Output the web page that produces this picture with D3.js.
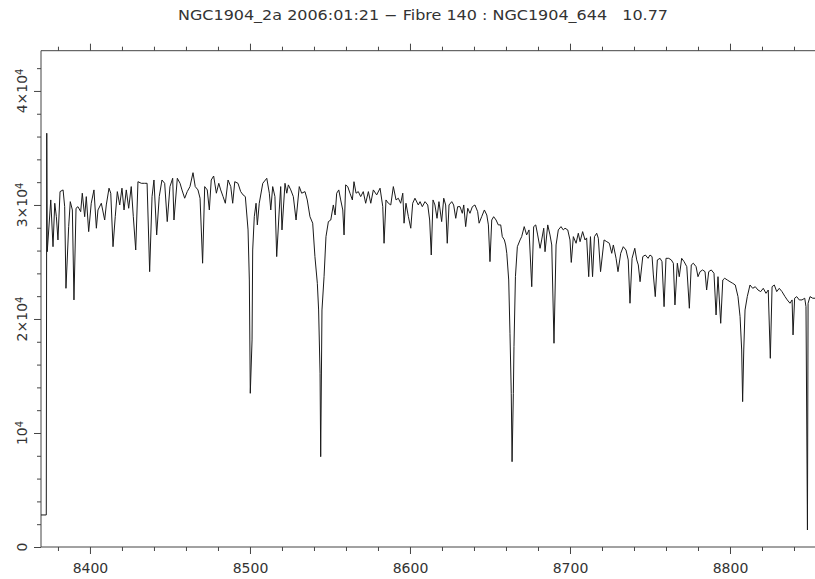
<!DOCTYPE html>
<html>
<head>
<meta charset="utf-8">
<script src="https://cdn.jsdelivr.net/npm/d3@7"></script>
<style>
  body { margin: 0; background: #fff; }
  svg { display: block; }
</style>
</head>
<body>
<svg id="chart" width="815" height="579"></svg>
<script>
// spectrum
var title = "NGC1904_2a 2006:01:21 \u2212 Fibre 140 : NGC1904_644   10.77";

var wavelength = [
  8369.4, 8372.7, 8373.0, 8373.3, 8375.5, 8376.9, 8378.0, 8379.0, 8380.0, 8381.3,
  8383.2, 8384.2, 8385.0, 8386.7, 8387.7, 8389.0, 8390.0, 8391.3, 8392.5, 8394.2,
  8395.2, 8396.7, 8397.7, 8399.2, 8400.8, 8402.5, 8404.0, 8405.0, 8407.1, 8409.2,
  8410.2, 8411.9, 8413.0, 8414.4, 8415.8, 8417.1, 8418.6, 8420.0, 8421.3, 8422.7,
  8424.2, 8425.8, 8427.1, 8428.6, 8430.0, 8432.1, 8434.2, 8435.7, 8437.3, 8438.8,
  8440.0, 8441.7, 8443.3, 8445.0, 8446.7, 8448.3, 8450.0, 8451.7, 8452.5, 8454.6,
  8456.3, 8457.5, 8459.2, 8460.8, 8462.5, 8464.4, 8465.8, 8467.5, 8468.8, 8470.4,
  8471.7, 8473.3, 8474.6, 8475.8, 8477.3, 8479.0, 8480.5, 8481.7, 8483.2, 8484.6,
  8486.3, 8488.0, 8489.2, 8490.5, 8492.5, 8494.2, 8495.7, 8497.1, 8498.8, 8499.6,
  8500.2, 8501.3, 8501.7, 8502.7, 8503.8, 8504.6, 8505.8, 8508.0, 8510.5, 8512.1,
  8513.0, 8514.2, 8515.6, 8516.7, 8518.3, 8519.2, 8520.0, 8521.9, 8523.0, 8524.0,
  8525.5, 8527.1, 8528.8, 8530.8, 8532.3, 8534.4, 8535.8, 8537.5, 8539.2, 8540.6,
  8542.1, 8542.9, 8543.8, 8544.2, 8545.0, 8546.3, 8547.5, 8549.0, 8550.5, 8552.1,
  8553.2, 8554.2, 8555.5, 8556.7, 8558.0, 8558.8, 8559.8, 8561.1, 8562.5, 8564.0,
  8565.0, 8566.3, 8567.7, 8569.2, 8570.8, 8572.3, 8574.0, 8575.5, 8577.1, 8579.2,
  8581.3, 8583.0, 8583.8, 8585.0, 8586.5, 8588.0, 8589.6, 8591.3, 8592.7, 8594.2,
  8595.5, 8596.3, 8597.5, 8599.0, 8600.5, 8601.7, 8603.1, 8605.2, 8606.3, 8607.7,
  8609.4, 8611.1, 8612.3, 8613.3, 8614.4, 8615.6, 8616.9, 8618.1, 8619.8, 8621.1,
  8622.3, 8623.3, 8624.4, 8626.1, 8627.3, 8628.6, 8629.8, 8631.3, 8632.7, 8633.6,
  8634.8, 8636.1, 8637.5, 8639.0, 8640.6, 8642.3, 8643.2, 8644.8, 8646.5, 8648.0,
  8649.0, 8650.0, 8651.1, 8652.3, 8653.8, 8655.2, 8656.7, 8657.7, 8659.0, 8659.8,
  8660.5, 8661.7, 8662.5, 8663.3, 8663.8, 8664.6, 8665.0, 8665.9, 8667.1, 8668.8,
  8669.8, 8671.4, 8672.9, 8674.4, 8676.1, 8677.3, 8678.6, 8679.8, 8681.3, 8682.3,
  8683.6, 8684.4, 8686.1, 8687.5, 8688.6, 8690.0, 8691.3, 8692.7, 8694.4, 8695.8,
  8696.9, 8698.6, 8700.0, 8700.8, 8702.1, 8703.8, 8705.2, 8706.3, 8707.9, 8709.4,
  8710.4, 8711.7, 8712.8, 8714.1, 8715.3, 8716.7, 8717.7, 8719.1, 8721.3, 8723.0,
  8724.6, 8726.1, 8727.1, 8728.8, 8730.0, 8731.7, 8733.3, 8735.0, 8736.4, 8737.5,
  8738.8, 8740.5, 8741.7, 8742.7, 8743.8, 8745.5, 8747.1, 8748.8, 8750.0, 8751.3,
  8752.1, 8753.3, 8754.6, 8756.3, 8757.5, 8758.8, 8760.0, 8761.7, 8763.3, 8764.6,
  8765.6, 8767.1, 8768.3, 8769.8, 8771.3, 8773.0, 8774.6, 8775.8, 8777.1, 8778.8,
  8780.0, 8781.3, 8782.9, 8784.4, 8785.4, 8786.7, 8788.3, 8790.0, 8791.3, 8792.5,
  8794.2, 8795.5, 8796.7, 8798.3, 8800.0, 8801.7, 8803.3, 8805.0, 8806.3, 8807.3,
  8807.9, 8808.6, 8809.4, 8810.8, 8812.5, 8814.2, 8815.8, 8817.5, 8819.2, 8820.8,
  8822.5, 8823.9, 8825.2, 8826.3, 8827.7, 8829.2, 8830.8, 8832.5, 8834.4, 8835.8,
  8837.5, 8838.8, 8839.4, 8840.4, 8841.7, 8843.3, 8845.0, 8846.7, 8847.5, 8848.4,
  8848.8, 8850.0, 8851.7, 8853.2
];

var flux = [
  2810, 2810, 36290, 25900, 30440, 26340, 30150, 28970, 26930, 31170,
  31320, 29850, 22690, 28100, 30290, 29560, 21670, 29710, 29850, 29410,
  31030, 28970, 30730, 27660, 30150, 31320, 27960, 29560, 30150, 28680,
  30000, 31470, 31030, 26340, 28970, 31170, 30000, 31470, 29560, 31320,
  29710, 31610, 28970, 26050, 32040, 31900, 31900, 31900, 24150, 30730,
  32190, 27370, 30730, 32190, 31900, 28540, 31610, 32340, 28680, 32340,
  31900, 31320, 30590, 31170, 31610, 32830, 31610, 31320, 30590, 24890,
  31610, 31320, 29560, 32190, 32540, 31030, 31900, 31320, 30730, 30150,
  32190, 31610, 30150, 32040, 31900, 31170, 30880, 30730, 27810, 23420,
  13480, 18160, 26050, 28970, 30150, 28250, 30150, 31900, 32340, 31030,
  29560, 31610, 30730, 25470, 29560, 31610, 27810, 31900, 31030, 31760,
  31320, 30730, 28680, 31610, 31030, 31170, 30440, 28970, 28400, 25470,
  23130, 20790, 15240, 7920, 20790, 23710, 27220, 28540, 28680, 30000,
  29120, 31030, 31320, 30440, 29560, 27370, 31760, 31610, 31030, 30440,
  32040, 31030, 31170, 30730, 31170, 30150, 31170, 30150, 31320, 30880,
  31470, 29850, 26640, 30440, 30150, 30000, 31610, 30440, 30590, 30150,
  31030, 28400, 30150, 28970, 27960, 30150, 30590, 30000, 30290, 29850,
  30290, 30000, 28680, 25610, 30440, 30000, 28830, 30290, 28540, 30590,
  30000, 26640, 30000, 30290, 30000, 28830, 29850, 29850, 29270, 30000,
  28100, 29710, 29270, 29850, 30000, 29410, 28400, 28970, 29560, 29120,
  28250, 25030, 28680, 28970, 28680, 28250, 28250, 27220, 26930, 26490,
  25760, 23420, 18750, 13480, 7480, 13480, 17570, 23710, 26340, 26930,
  27220, 28100, 27370, 27810, 22830, 28100, 28250, 27370, 26200, 26930,
  27960, 25900, 28250, 27370, 26490, 17870, 26490, 27810, 28100, 27810,
  27960, 27810, 26930, 24960, 27220, 26640, 27520, 26780, 27660, 26930,
  27110, 23710, 27220, 23710, 27220, 27520, 27080, 24150, 26930, 26780,
  26640, 25760, 26490, 25320, 24150, 25760, 26340, 26050, 25180, 21380,
  25320, 26200, 25180, 24740, 23270, 25470, 25610, 25320, 25610, 25470,
  23860, 21960, 25180, 25320, 25030, 21080, 25320, 25320, 25180, 24890,
  21230, 24890, 23710, 25320, 25030, 24590, 20940, 24740, 24890, 24590,
  23710, 24150, 24300, 24150, 22540, 24150, 24300, 24010, 20350, 23710,
  19620, 23420, 23570, 23420, 23270, 23130, 22980, 21960, 20200, 17280,
  12750, 17280, 20790, 21960, 22980, 22690, 22830, 22540, 22400, 22690,
  22250, 22540, 16550, 22830, 22980, 22400, 22690, 22400, 21960, 21670,
  21380, 21670, 18600, 21820, 21960, 21670, 21670, 21820, 21080, 1490,
  21380, 21960, 21820, 21820
];

var xTicks = [8400, 8500, 8600, 8700, 8800];
var yTicks = [0, 10000, 20000, 30000, 40000];
var yTickText = ["0", "10", "2\u00d710", "3\u00d710", "4\u00d710"];
var yTickSup = ["", "4", "4", "4", "4"];

var plotLeft = 41, plotRight = 818, plotTop = 50.7, plotBottom = 547;
var axisColor = "#444";

var svg = d3.select("#chart");

var x = d3.scaleLinear().domain([8369.4, 8855]).range([plotLeft, plotRight]);
var y = d3.scaleLinear().domain([0, 43530]).range([plotBottom, plotTop]);

var xMinor = d3.range(8380, 8856, 20).filter(d => d % 100 !== 0);
var yMinor = d3.range(2000, 43001, 2000).filter(d => d % 10000 !== 0);

// title
svg.append("text")
  .attr("x", 423)
  .attr("y", 20)
  .attr("text-anchor", "middle")
  .attr("textLength", 490)
  .attr("lengthAdjust", "spacingAndGlyphs")
  .style("white-space", "pre")
  .style("font-family", "DejaVu Sans, sans-serif")
  .style("font-size", "14px")
  .style("fill", "#333")
  .text(title);

// frame lines
svg.append("path")
  .attr("fill", "none")
  .attr("stroke", axisColor)
  .attr("stroke-width", 1)
  .attr("d", `M${plotRight},${plotTop}H${plotLeft}V${plotBottom}H${plotRight}`);

function styleAxis(g) {
  g.select(".domain").remove();
  g.selectAll("line").attr("stroke", axisColor);
}

// bottom axis
svg.append("g")
  .attr("transform", `translate(0,${plotBottom})`)
  .call(d3.axisBottom(x).tickValues(xTicks).tickSize(7).tickPadding(8.6).tickFormat(d3.format("d")))
  .call(styleAxis)
  .call(g => g.selectAll("text")
    .style("font-family", "DejaVu Sans, sans-serif")
    .style("font-size", "14px")
    .attr("fill", "#333"));

svg.append("g")
  .attr("transform", `translate(0,${plotBottom})`)
  .call(d3.axisBottom(x).tickValues(xMinor).tickSize(4).tickFormat(""))
  .call(styleAxis);

// top axis, ticks only
svg.append("g")
  .attr("transform", `translate(0,${plotTop})`)
  .call(d3.axisTop(x).tickValues(xTicks).tickSize(7).tickFormat(""))
  .call(styleAxis);

svg.append("g")
  .attr("transform", `translate(0,${plotTop})`)
  .call(d3.axisTop(x).tickValues(xMinor).tickSize(4).tickFormat(""))
  .call(styleAxis);

// left axis
svg.append("g")
  .attr("transform", `translate(${plotLeft},0)`)
  .call(d3.axisLeft(y).tickValues(yTicks).tickSize(7).tickFormat(""))
  .call(styleAxis);

svg.append("g")
  .attr("transform", `translate(${plotLeft},0)`)
  .call(d3.axisLeft(y).tickValues(yMinor).tickSize(4).tickFormat(""))
  .call(styleAxis);

// rotated y labels with superscript
var labelX = 22;
yTicks.forEach((v, i) => {
  var t = svg.append("text")
    .attr("transform", `translate(${labelX},${y(v)}) rotate(-90)`)
    .attr("text-anchor", "middle")
    .attr("dy", "0.36em")
    .style("font-family", "DejaVu Sans, sans-serif")
    .style("font-size", "14px")
    .attr("fill", "#333");
  t.append("tspan").text(yTickText[i]);
  if (yTickSup[i]) {
    t.append("tspan")
      .attr("dy", "-0.45em")
      .style("font-size", "10px")
      .text(yTickSup[i]);
  }
});

// spectrum
var points = wavelength.map((w, i) => [w, flux[i]]);

svg.append("defs").append("clipPath").attr("id", "clip")
  .append("rect")
  .attr("x", plotLeft).attr("y", plotTop)
  .attr("width", plotRight - plotLeft).attr("height", plotBottom - plotTop);

svg.append("path")
  .datum(points)
  .attr("clip-path", "url(#clip)")
  .attr("fill", "none")
  .attr("stroke", "#1a1a1a")
  .attr("stroke-width", 1)
  .attr("stroke-linejoin", "round")
  .attr("d", d3.line().x(d => x(d[0])).y(d => y(d[1])));
</script>
</body>
</html>
